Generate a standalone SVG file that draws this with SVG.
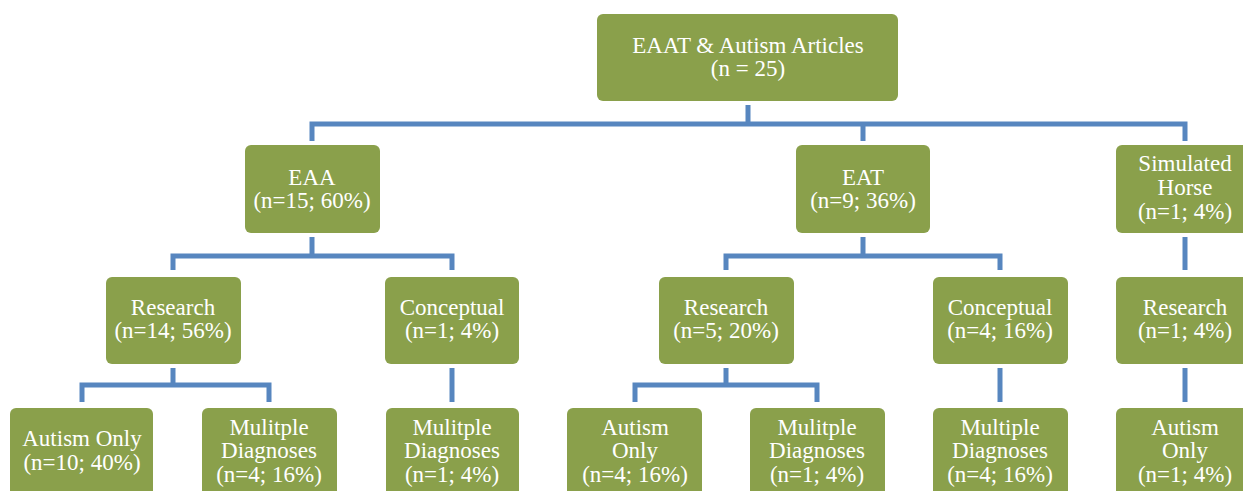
<svg xmlns="http://www.w3.org/2000/svg" width="1243" height="491" viewBox="0 0 1243 491">
<style>
.box{fill:#8aa04b;}
text{fill:#ffffff;text-anchor:middle;}
.c{fill:none;stroke:#5786bf;stroke-width:5;stroke-linejoin:miter;stroke-linecap:butt;}
</style>
<rect width="1243" height="491" fill="#ffffff"/>
<g id="connectors">
<path class="c" d="M748 105V124M312 141V124H1185V141M863 124V141"/>
<path class="c" d="M312 237V256M173 270V256H452V270"/>
<path class="c" d="M863 237V256M726 270V256H1000V270"/>
<path class="c" d="M1185 237V270"/>
<path class="c" d="M173 368V385M82 402V385H269V402"/>
<path class="c" d="M452 368V402"/>
<path class="c" d="M726 368V385M635 402V385H817V402"/>
<path class="c" d="M1000 368V402"/>
<path class="c" d="M1185 368V402"/>
</g>
<g font-family="'Liberation Serif', 'DejaVu Serif', serif" font-size="23">
<g id="root"><rect class="box" x="597" y="14" width="301" height="87" rx="6"/><text x="748" y="53">EAAT &amp; Autism Articles</text><text x="748" y="76">(n = 25)</text></g>
<g id="eaa"><rect class="box" x="245" y="145" width="135" height="88" rx="6"/><text x="312" y="185">EAA</text><text x="312" y="208">(n=15; 60%)</text></g>
<g id="eat"><rect class="box" x="796" y="145" width="134" height="88" rx="6"/><text x="863" y="185">EAT</text><text x="863" y="208">(n=9; 36%)</text></g>
<g id="sim"><rect class="box" x="1116" y="145" width="137" height="88" rx="6"/><text x="1185" y="171">Simulated</text><text x="1185" y="195">Horse</text><text x="1185" y="219">(n=1; 4%)</text></g>
<g id="eaa-research"><rect class="box" x="106" y="277" width="135" height="87" rx="6"/><text x="173" y="315">Research</text><text x="173" y="338">(n=14; 56%)</text></g>
<g id="eaa-conceptual"><rect class="box" x="385" y="277" width="134" height="87" rx="6"/><text x="452" y="315">Conceptual</text><text x="452" y="338">(n=1; 4%)</text></g>
<g id="eat-research"><rect class="box" x="659" y="277" width="135" height="87" rx="6"/><text x="726" y="315">Research</text><text x="726" y="338">(n=5; 20%)</text></g>
<g id="eat-conceptual"><rect class="box" x="933" y="277" width="135" height="87" rx="6"/><text x="1000" y="315">Conceptual</text><text x="1000" y="338">(n=4; 16%)</text></g>
<g id="sim-research"><rect class="box" x="1116" y="277" width="137" height="87" rx="6"/><text x="1185" y="315">Research</text><text x="1185" y="338">(n=1; 4%)</text></g>
<g id="eaa-autism"><rect class="box" x="10" y="408" width="143" height="90" rx="6"/><text x="82" y="446">Autism Only</text><text x="82" y="470">(n=10; 40%)</text></g>
<g id="eaa-multiple"><rect class="box" x="202" y="408" width="135" height="90" rx="6"/><text x="269" y="435">Mulitple</text><text x="269" y="458">Diagnoses</text><text x="269" y="482">(n=4; 16%)</text></g>
<g id="eaa-conc-multiple"><rect class="box" x="386" y="408" width="133" height="90" rx="6"/><text x="452" y="435">Mulitple</text><text x="452" y="458">Diagnoses</text><text x="452" y="482">(n=1; 4%)</text></g>
<g id="eat-autism"><rect class="box" x="567" y="408" width="135" height="90" rx="6"/><text x="635" y="435">Autism</text><text x="635" y="458">Only</text><text x="635" y="482">(n=4; 16%)</text></g>
<g id="eat-multiple"><rect class="box" x="750" y="408" width="135" height="90" rx="6"/><text x="817" y="435">Mulitple</text><text x="817" y="458">Diagnoses</text><text x="817" y="482">(n=1; 4%)</text></g>
<g id="eat-conc-multiple"><rect class="box" x="933" y="408" width="135" height="90" rx="6"/><text x="1000" y="435">Multiple</text><text x="1000" y="458">Diagnoses</text><text x="1000" y="482">(n=4; 16%)</text></g>
<g id="sim-autism"><rect class="box" x="1116" y="408" width="137" height="90" rx="6"/><text x="1185" y="435">Autism</text><text x="1185" y="458">Only</text><text x="1185" y="482">(n=1; 4%)</text></g>
</g>
</svg>
